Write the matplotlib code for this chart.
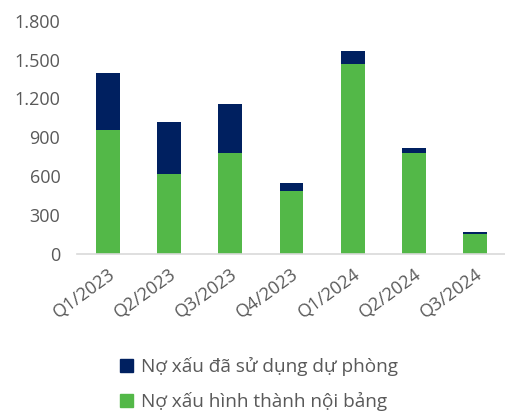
import matplotlib
matplotlib.use("Agg")
import matplotlib.pyplot as plt
from matplotlib.patches import Patch

categories = ["Q1/2023", "Q2/2023", "Q3/2023", "Q4/2023", "Q1/2024", "Q2/2024", "Q3/2024"]
noi_bang = [960, 620, 780, 487, 1463, 777, 151]
du_phong = [440, 395, 381, 61, 106, 38, 18]
yticks = [0, 300, 600, 900, 1200, 1500, 1800]
ytick_labels = ["0", "300", "600", "900", "1.200", "1.500", "1.800"]

green = "#53B848"
navy = "#002060"
gray = "#595959"

plt.rcParams['font.family'] = ['Open Sans', 'DejaVu Sans']

fig = plt.figure(figsize=(5.06, 4.12), dpi=100)
ax = fig.add_axes([77/506, 1 - 254/412, (506 - 77)/506, (254 - 20.7)/412])

x = list(range(len(categories)))
ax.bar(x, noi_bang, width=0.39, color=green, label="Nợ xấu hình thành nội bảng")
ax.bar(x, du_phong, width=0.39, bottom=noi_bang, color=navy, label="Nợ xấu đã sử dụng dự phòng")

ax.set_xlim(-0.5, 6.5)
ax.set_ylim(0, 1800)
ax.set_yticks(yticks)
ax.set_yticklabels(ytick_labels)
ax.set_xticks(x)
ax.set_xticklabels(categories, rotation=36, ha="right", rotation_mode="anchor")
ax.tick_params(axis="both", length=0, colors=gray, labelsize=13)
ax.tick_params(axis="y", pad=12)
ax.tick_params(axis="x", pad=8)
for s in ["top", "right", "left"]:
    ax.spines[s].set_visible(False)
ax.spines["bottom"].set_color("#D9D9D9")
ax.spines["bottom"].set_linewidth(1.2)

handles = [Patch(color=navy, label="Nợ xấu đã sử dụng dự phòng"),
           Patch(color=green, label="Nợ xấu hình thành nội bảng")]
fig.legend(handles=handles, loc="center", bbox_to_anchor=(259/506, 1 - 384/412),
           ncol=1, frameon=False, fontsize=13.7, labelcolor=gray,
           handlelength=0.7, handleheight=0.7, handletextpad=0.4, labelspacing=0.85)

fig.savefig("out.png", dpi=100)
